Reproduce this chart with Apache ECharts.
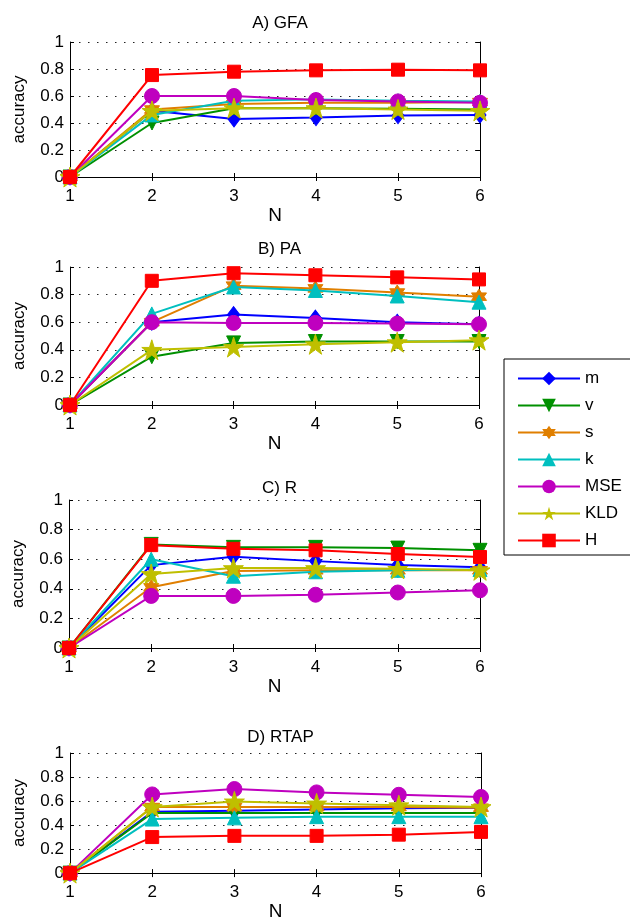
<!DOCTYPE html>
<html><head><meta charset="utf-8">
<script src="https://cdn.jsdelivr.net/npm/echarts@6/dist/echarts.min.js"></script>
<style>html,body{margin:0;padding:0;background:#fff}#c{width:630px;height:922px}</style>
</head><body><div id="c"></div>
<script>
const N = [1, 2, 3, 4, 5, 6];
const yTicks = [0, 0.2, 0.4, 0.6, 0.8, 1];
const seriesNames = ['m', 'v', 's', 'k', 'MSE', 'KLD', 'H'];
const panelTitles = ['A) GFA', 'B) PA', 'C) R', 'D) RTAP'];

// A) GFA
const gfa_m   = [0, 0.49, 0.43, 0.44, 0.455, 0.46];
const gfa_v   = [0, 0.40, 0.51, 0.51, 0.505, 0.50];
const gfa_s   = [0, 0.50, 0.54, 0.55, 0.55, 0.555];
const gfa_k   = [0, 0.46, 0.565, 0.575, 0.565, 0.56];
const gfa_MSE = [0, 0.60, 0.60, 0.57, 0.56, 0.55];
const gfa_KLD = [0, 0.49, 0.51, 0.51, 0.50, 0.49];
const gfa_H   = [0, 0.755, 0.78, 0.79, 0.795, 0.79];
// B) PA
const pa_m   = [0, 0.60, 0.655, 0.63, 0.60, 0.585];
const pa_v   = [0, 0.35, 0.45, 0.46, 0.46, 0.46];
const pa_s   = [0, 0.60, 0.865, 0.845, 0.815, 0.785];
const pa_k   = [0, 0.66, 0.855, 0.83, 0.79, 0.745];
const pa_MSE = [0, 0.60, 0.595, 0.595, 0.59, 0.585];
const pa_KLD = [0, 0.40, 0.42, 0.44, 0.455, 0.47];
const pa_H   = [0, 0.90, 0.955, 0.94, 0.925, 0.91];
// C) R
const r_m   = [0, 0.56, 0.617, 0.587, 0.56, 0.545];
const r_v   = [0, 0.70, 0.68, 0.68, 0.675, 0.66];
const r_s   = [0, 0.41, 0.52, 0.525, 0.525, 0.525];
const r_k   = [0, 0.60, 0.485, 0.515, 0.525, 0.53];
const r_MSE = [0, 0.352, 0.352, 0.36, 0.375, 0.39];
const r_KLD = [0, 0.50, 0.54, 0.54, 0.535, 0.525];
const r_H   = [0, 0.695, 0.67, 0.66, 0.635, 0.615];
// D) RTAP
const rtap_m   = [0, 0.51, 0.52, 0.53, 0.54, 0.545];
const rtap_v   = [0, 0.50, 0.50, 0.50, 0.50, 0.50];
const rtap_s   = [0, 0.55, 0.55, 0.55, 0.55, 0.545];
const rtap_k   = [0, 0.45, 0.46, 0.47, 0.47, 0.47];
const rtap_MSE = [0, 0.655, 0.70, 0.672, 0.652, 0.634];
const rtap_KLD = [0, 0.55, 0.597, 0.58, 0.565, 0.55];
const rtap_H   = [0, 0.30, 0.31, 0.31, 0.32, 0.343];

const panelData = [
  [gfa_m, gfa_v, gfa_s, gfa_k, gfa_MSE, gfa_KLD, gfa_H],
  [pa_m, pa_v, pa_s, pa_k, pa_MSE, pa_KLD, pa_H],
  [r_m, r_v, r_s, r_k, r_MSE, r_KLD, r_H],
  [rtap_m, rtap_v, rtap_s, rtap_k, rtap_MSE, rtap_KLD, rtap_H]
];

const colors = ['#0000ff', '#009000', '#e07f00', '#00bfbf', '#bf00bf', '#bfbf00', '#ff0000'];
const symbols = [
  'path://M0,-10 L7,0 L0,10 L-7,0 Z',
  'path://M-10,-8.66 L10,-8.66 L0,8.66 Z',
  'path://M0,-10 L2.887,-5 L8.66,-5 L5.77,0 L8.66,5 L2.887,5 L0,10 L-2.887,5 L-8.66,5 L-5.77,0 L-8.66,-5 L-2.887,-5 Z',
  'path://M0,-8.66 L10,8.66 L-10,8.66 Z',
  'circle',
  'path://M0,-10 L2.245,-3.09 L9.51,-3.09 L3.633,1.18 L5.878,8.09 L0,3.82 L-5.878,8.09 L-3.633,1.18 L-9.51,-3.09 L-2.245,-3.09 Z',
  'rect'
];
const symSizes = [[12, 16], 14, 15, 14, 15, 20, 13];

const grids = [
  {left: 70, top: 42, width: 410, height: 135},
  {left: 70, top: 267, width: 409, height: 138},
  {left: 69, top: 500, width: 411, height: 148},
  {left: 70, top: 753, width: 411, height: 134}
];
const titleTops = [10, 236, 475, 724];

const FONT = 'Liberation Sans';
const tickStyle = {inside: true, length: 4, lineStyle: {color: '#000'}};
const xAxes = [], yAxes = [];
grids.forEach((g, i) => {
  xAxes.push({
    gridIndex: i, type: 'value', min: 1, max: 6, interval: 1, position: 'bottom',
    name: 'N', nameLocation: 'middle', nameGap: 23,
    nameTextStyle: {fontFamily: FONT, fontSize: 19, color: '#000'},
    axisLine: {lineStyle: {color: '#000'}},
    axisTick: tickStyle,
    axisLabel: {fontFamily: FONT, fontSize: 17, color: '#000', margin: 11},
    splitLine: {show: false}
  });
  yAxes.push({
    gridIndex: i, type: 'value', min: 0, max: 1, interval: 0.2, position: 'left',
    name: 'accuracy', nameLocation: 'middle', nameGap: 42,
    nameTextStyle: {fontFamily: FONT, fontSize: 17, color: '#000'},
    axisLine: {lineStyle: {color: '#000'}},
    axisTick: tickStyle,
    axisLabel: {fontFamily: FONT, fontSize: 17, color: '#000', margin: 6,
      formatter: v => (v === 0 || v === 1) ? String(v) : v.toFixed(1)},
    splitLine: {show: true, lineStyle: {color: '#222', type: [1.5, 7.5], width: 1}}
  });
});
grids.forEach((g, i) => {
  xAxes.push({
    gridIndex: i, type: 'value', min: 1, max: 6, interval: 1, position: 'top',
    axisLine: {lineStyle: {color: '#000'}}, axisTick: tickStyle,
    axisLabel: {show: false}, splitLine: {show: false}
  });
  yAxes.push({
    gridIndex: i, type: 'value', min: 0, max: 1, interval: 0.2, position: 'right',
    axisLine: {lineStyle: {color: '#000'}}, axisTick: tickStyle,
    axisLabel: {show: false}, splitLine: {show: false}
  });
});

const option = {
  animation: false,
  backgroundColor: '#fff',
  textStyle: {fontFamily: FONT},
  title: panelTitles.map((t, i) => ({
    text: t, left: grids[i].left + grids[i].width / 2, top: titleTops[i], textAlign: 'center',
    textStyle: {fontFamily: FONT, fontSize: 17, fontWeight: 'normal', color: '#000'}
  })),
  legend: {
    data: seriesNames, orient: 'vertical', left: 504, top: 359,
    padding: [11, 40, 6, 13], itemGap: 10, itemWidth: 62, itemHeight: 17,
    borderColor: '#000', borderWidth: 1, backgroundColor: '#fff',
    textStyle: {fontFamily: FONT, fontSize: 17, color: '#000'}
  },
  grid: grids.map(g => Object.assign({show: false}, g)),
  xAxis: xAxes,
  yAxis: yAxes,
  series: []
};

panelData.forEach((pd, gi) => {
  pd.forEach((vals, si) => {
    option.series.push({
      name: seriesNames[si], type: 'line', xAxisIndex: gi, yAxisIndex: gi,
      data: N.map((n, j) => [n, vals[j]]),
      symbol: symbols[si], symbolSize: symSizes[si],
      lineStyle: {color: colors[si], width: 2},
      itemStyle: {color: colors[si], borderColor: colors[si], opacity: 1},
      z: 2 + si
    });
  });
});

const chart = echarts.init(document.getElementById('c'), null, {renderer: 'canvas'});
chart.setOption(option);
</script></body></html>
